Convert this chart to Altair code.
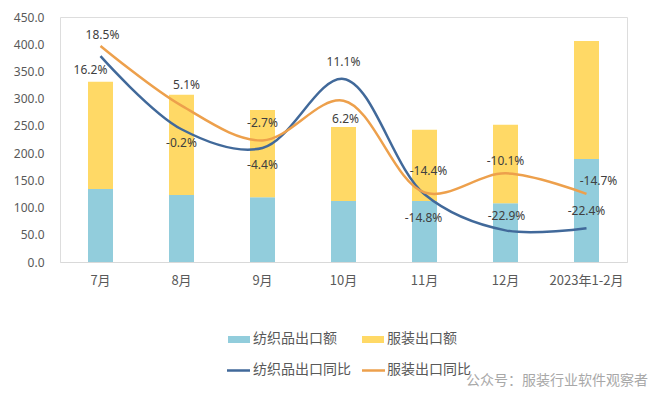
import altair as alt
import pandas as pd

# ---- data ----
months = ["7月", "8月", "9月", "10月", "11月", "12月", "2023年1-2月"]
textile_value = [134, 123, 119, 112, 112, 108, 189]   # 纺织品出口额
garment_value = [197, 184, 160, 136, 131, 144, 217]   # 服装出口额
textile_yoy = [16.2, -0.2, -4.4, 11.1, -14.8, -22.9, -22.4]   # 纺织品出口同比 (%)
garment_yoy = [18.5, 5.1, -2.7, 6.2, -14.4, -10.1, -14.7]     # 服装出口同比 (%)

# ---- label placement (style, pixels) ----
textile_dx = [-10, 0, 0, 0, -1, 1, 0]
textile_dy = [14, 14, 17, -17, 24, -14, -17]
garment_dx = [2, 5, 0, 2, 4, 0, 12]
garment_dy = [-11, -21, -17, 18, -22, -12, -13]

C_TEX_BAR = "#92CDDC"
C_GAR_BAR = "#FFD966"
C_TEX_LINE = "#41699A"
C_GAR_LINE = "#EDA04C"
FONT = "Noto Sans CJK SC"

bars = pd.DataFrame({
    "month": months * 2,
    "series": ["纺织品出口额"] * 7 + ["服装出口额"] * 7,
    "value": textile_value + garment_value,
    "ord": [0] * 7 + [1] * 7,
})
lines = pd.DataFrame({
    "month": months * 2,
    "series": ["纺织品出口同比"] * 7 + ["服装出口同比"] * 7,
    "yoy": textile_yoy + garment_yoy,
    "label": [f"{v:.1f}%" for v in textile_yoy + garment_yoy],
    "ldx": textile_dx + garment_dx,
    "ldy": textile_dy + garment_dy,
})

x_enc = alt.X("month:N", sort=months, title=None,
              axis=alt.Axis(labelAngle=0, ticks=False, domainColor="#D9D9D9",
                            labelPadding=12, labelFontSize=13, labelColor="#595959",
                            labelFont=FONT))

bar_layer = alt.Chart(bars).mark_bar(size=25).encode(
    x=x_enc,
    y=alt.Y("value:Q", stack="zero", title=None,
            scale=alt.Scale(domain=[0, 450], nice=False),
            axis=alt.Axis(values=list(range(0, 451, 50)), format=".1f", grid=False,
                          domain=False, ticks=False, labelPadding=16, labelFontSize=12,
                          labelColor="#595959", labelFont="Noto Sans")),
    color=alt.Color("series:N", scale=alt.Scale(domain=["纺织品出口额", "服装出口额"],
                                                range=[C_TEX_BAR, C_GAR_BAR]), legend=None),
    order=alt.Order("ord:Q"),
)

y2 = alt.Y("yoy:Q", scale=alt.Scale(domain=[-30, 25], nice=False), axis=None)
line_color = alt.Color("series:N", scale=alt.Scale(domain=["纺织品出口同比", "服装出口同比"],
                                                   range=[C_TEX_LINE, C_GAR_LINE]), legend=None)

line_marks = alt.Chart(lines).mark_line(interpolate="catmull-rom", strokeWidth=2.5).encode(
    x=alt.X("month:N", sort=months), y=y2, color=line_color, detail="series:N"
)
label_marks = alt.Chart(lines).mark_text(
    fontSize=12, font="Noto Sans", color="#404040", baseline="middle",
    dx=alt.expr("datum.ldx"), dy=alt.expr("datum.ldy"),
).encode(
    x=alt.X("month:N", sort=months), y=y2, text="label:N",
)
line_layer = alt.layer(line_marks, label_marks)

one = pd.DataFrame({"a": [0]})
leg = []
leg.append(alt.Chart(one).mark_rect(color=C_TEX_BAR).encode(
    x=alt.value(168), x2=alt.value(190), y=alt.value(319), y2=alt.value(326)))
leg.append(alt.Chart(one).mark_rect(color=C_GAR_BAR).encode(
    x=alt.value(302), x2=alt.value(324), y=alt.value(319), y2=alt.value(326)))
leg.append(alt.Chart(one).mark_rule(color=C_TEX_LINE, strokeWidth=2.5).encode(
    x=alt.value(167), x2=alt.value(190), y=alt.value(353.5)))
leg.append(alt.Chart(one).mark_rule(color=C_GAR_LINE, strokeWidth=2.5).encode(
    x=alt.value(302), x2=alt.value(325), y=alt.value(353.5)))
for txt, xx, yy in [("纺织品出口额", 193, 322), ("服装出口额", 327, 322),
                    ("纺织品出口同比", 193, 353), ("服装出口同比", 327, 353)]:
    leg.append(alt.Chart(one).mark_text(text=txt, align="left", baseline="middle",
                                        fontSize=14, font=FONT, color="#595959").encode(
        x=alt.value(xx), y=alt.value(yy)))
leg.append(alt.Chart(one).mark_text(text="公众号：服装行业软件观察者", align="center",
                                    baseline="middle", fontSize=14, font=FONT,
                                    color="#A8A8A8").encode(
    x=alt.value(497), y=alt.value(364)))

chart = alt.layer(bar_layer, line_layer, *leg).resolve_scale(
    y="independent", color="independent"
).properties(
    width=567, height=245,
    autosize=alt.AutoSizeParams(type="none"),
    padding={"left": 52, "top": 9, "right": 25, "bottom": 128},
).configure_view(stroke=None).configure(background="white")

chart.save("out.html", embed_options={"renderer": "svg", "actions": False})
